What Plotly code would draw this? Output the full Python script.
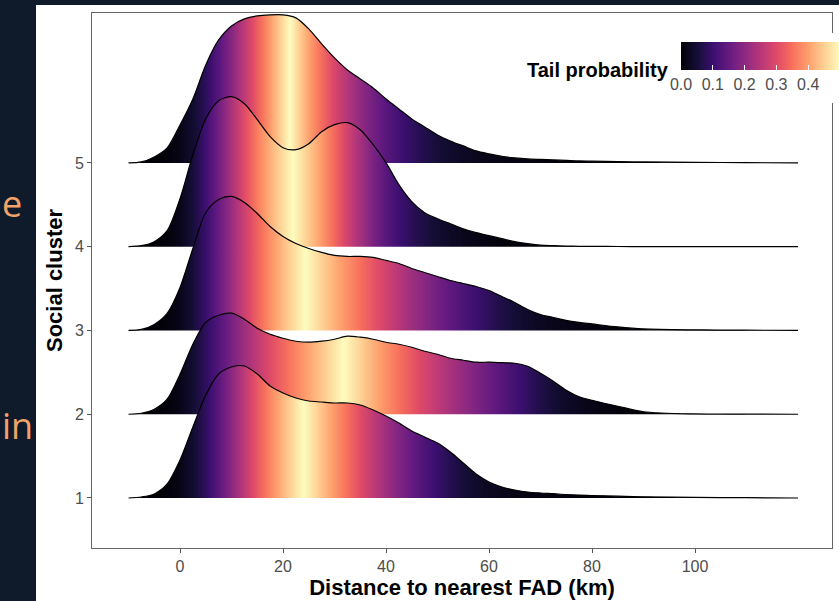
import numpy as np
import plotly.graph_objects as go

# ---------------- data ----------------
distance_km = [-10, -7.5, -5, -2.5, 0, 2.5, 5, 7.5, 10, 12.5, 15, 17.5, 20, 22.5, 25,
               27.5, 30, 32.5, 35, 37.5, 40, 42.5, 45, 47.5, 50, 52.5, 55, 57.5, 60,
               62.5, 65, 67.5, 70, 72.5, 75, 77.5, 80, 85, 90, 100, 110, 120]

clusters = [1, 2, 3, 4, 5]

# relative density heights (arbitrary units, shared scale across clusters)
density_c5 = [0, 1, 6, 15, 38, 64, 98, 123, 137, 144, 147, 148, 148, 145, 134,
              119, 105, 93, 84, 75, 64, 54, 44, 36, 28, 22, 17, 12, 9,
              6.5, 5, 4, 3.5, 3, 2.5, 2, 1.8, 1.3, 1, 0.6, 0.3, 0]
density_c4 = [0, 1, 5, 16, 48, 92, 128, 146, 150, 143, 127, 110, 99, 97, 103,
              115, 122, 124, 117, 102, 84, 62, 45, 34, 28, 23, 18, 14, 11,
              8, 5, 3, 1.5, 1, 0.6, 0.4, 0.3, 0.2, 0.1, 0, 0, 0]
density_c3 = [0, 1, 6, 17, 43, 82, 118, 131, 134, 128, 117, 104, 94, 87, 82,
              78, 75, 74, 74, 73, 70, 67, 62, 58, 54, 50, 47, 44, 40,
              34, 28, 21, 16, 13, 10, 8, 6.5, 3.5, 1.5, 0.6, 0.3, 0]
density_c2 = [0, 1, 5, 15, 40, 70, 92, 99, 101, 95, 86, 80, 76, 73, 72,
              73, 75, 78, 77, 75, 72, 70, 67, 63, 60, 56, 54, 52, 52,
              51.5, 51, 48, 41, 33, 24, 17.5, 14, 8, 2.5, 0.3, 0.1, 0]
density_c1 = [0, 1, 4, 14, 38, 71, 103, 124, 131, 132, 124, 112, 105, 100, 97,
              96, 95, 95, 93, 88, 82, 75, 67, 61, 55, 46, 35, 24, 16,
              11, 8, 6, 5, 4.3, 3.5, 3, 2.5, 1.8, 1.2, 0.6, 0.3, 0]

densities = {1: density_c1, 2: density_c2, 3: density_c3, 4: density_c4, 5: density_c5}

x_tickvals = [0, 20, 40, 60, 80, 100]
y_tickvals = [1, 2, 3, 4, 5]
cbar_tickvals = [0.0, 0.1, 0.2, 0.3, 0.4]
cbar_ticktext = ["0.0", "0.1", "0.2", "0.3", "0.4"]

# ---------------- styling ----------------
MAGMA = ["#000004", "#140E36", "#3B0F70", "#641A80", "#8C2981", "#B73779",
         "#DE4968", "#F7705C", "#FE9F6D", "#FECF92", "#FCFDBF"]
W, H = 839, 601
PL, PR, PT, PB = 92, 832, 13, 548          # plot-area pixel box
RIDGE_SCALE = 1 / 83.75                    # density units -> y units
X_RANGE = [-17.09, 126.6]
Y_RANGE = [0.403, 6.79]
FONT = "Liberation Sans, Arial, Helvetica, sans-serif"
SLIDE_BG = "#0f1a2a"


def fx(p):
    return (p - PL) / (PR - PL)


def fy(p):
    return (PB - p) / (PB - PT)


MAG_RGB = np.array([[int(c[i:i + 2], 16) for i in (1, 3, 5)] for c in MAGMA], float)


def magma(t):
    t = np.clip(np.asarray(t, float), 0, 1) * (len(MAGMA) - 1)
    i = np.minimum(np.floor(t).astype(int), len(MAGMA) - 2)
    f = (t - i)[:, None]
    c = MAG_RGB[i] * (1 - f) + MAG_RGB[i + 1] * f
    return ["rgb(%d,%d,%d)" % tuple(np.round(v)) for v in c]


magma_cs = [[i / (len(MAGMA) - 1), c] for i, c in enumerate(MAGMA)]

fig = go.Figure()

x = np.array(distance_km, float)
for k in sorted(clusters, reverse=True):
    d = np.array(densities[k], float)
    cdf = np.concatenate([[0], np.cumsum(np.diff(x) * (d[1:] + d[:-1]) / 2)])
    cdf = cdf / cdf[-1]
    xf = np.linspace(x[0], x[-1], 521)
    tail = 0.5 - np.abs(0.5 - np.interp(xf, x, cdf))
    cols = magma(tail / 0.5)
    pos = (xf - x[0]) / (x[-1] - x[0])
    cs = [[float(p), c] for p, c in zip(pos, cols)]
    cs[0][0] = 0.0
    cs[-1][0] = 1.0

    fig.add_trace(go.Scatter(x=x, y=[k] * len(x), mode="lines",
                             line=dict(width=0, color="rgba(0,0,0,0)"),
                             hoverinfo="skip", showlegend=False))
    fig.add_trace(go.Scatter(x=x, y=k + d * RIDGE_SCALE, mode="lines",
                             line=dict(color="black", width=1.2, shape="spline", smoothing=0.8),
                             fill="tonexty",
                             fillgradient=dict(type="horizontal", colorscale=cs,
                                               start=float(x[0]), stop=float(x[-1])),
                             hoverinfo="skip", showlegend=False, name="Cluster %d" % k))

# colour bar carrier
fig.add_trace(go.Scatter(
    x=[distance_km[0]], y=[clusters[0]], mode="markers",
    marker=dict(size=1, opacity=0, color=[0], cmin=0, cmax=0.5, colorscale=magma_cs,
                showscale=True,
                colorbar=dict(orientation="h", x=fx(681), xanchor="left",
                              y=fy(42), yanchor="top", len=159, lenmode="pixels",
                              thickness=28, thicknessmode="pixels", xpad=0, ypad=0,
                              outlinewidth=0, tickvals=cbar_tickvals, ticktext=cbar_ticktext,
                              ticks="inside", ticklen=5, tickcolor="white", tickwidth=1,
                              tickfont=dict(size=16, color="#4d4d4d", family=FONT))),
    hoverinfo="skip", showlegend=False))

fig.update_layout(
    width=W, height=H,
    margin=dict(l=PL, r=W - PR, t=PT, b=H - PB, autoexpand=False),
    paper_bgcolor=SLIDE_BG, plot_bgcolor="white",
    font=dict(family=FONT, color="#222"),
    showlegend=False,
    shapes=[
        dict(type="rect", xref="paper", yref="paper", x0=fx(36), x1=fx(W + 5),
             y0=fy(H + 5), y1=fy(5), fillcolor="white", line=dict(width=0), layer="below"),
        dict(type="rect", xref="paper", yref="paper", x0=fx(515), x1=fx(W + 5),
             y0=fy(103), y1=fy(33), fillcolor="white", line=dict(width=0), layer="above"),
    ],
    annotations=[
        dict(text="<b>Tail probability</b>", xref="paper", yref="paper", x=fx(671), y=fy(70),
             xanchor="right", yanchor="middle", showarrow=False,
             font=dict(size=20, color="black", family=FONT)),
        dict(text="e", xref="paper", yref="paper", x=fx(0), y=fy(203),
             xanchor="left", yanchor="middle", showarrow=False,
             font=dict(size=36, color="#f2a36b", family="Open Sans, Noto Sans")),
        dict(text="in", xref="paper", yref="paper", x=fx(0), y=fy(425),
             xanchor="left", yanchor="middle", showarrow=False,
             font=dict(size=36, color="#f2a36b", family="Open Sans, Noto Sans")),
    ],
)

fig.update_xaxes(range=X_RANGE, tickvals=x_tickvals, ticks="outside", ticklen=4,
                 tickcolor="#555", tickfont=dict(size=16, color="#4d4d4d"),
                 showgrid=False, zeroline=False, showline=True, linecolor="#666",
                 linewidth=1, mirror=True,
                 title=dict(text="<b>Distance to nearest FAD (km)</b>",
                            font=dict(size=22, color="black"), standoff=2))
fig.update_yaxes(range=Y_RANGE, tickvals=y_tickvals, ticks="outside", ticklen=4,
                 tickcolor="#555", tickfont=dict(size=16, color="#4d4d4d"),
                 showgrid=False, zeroline=False, showline=True, linecolor="#666",
                 linewidth=1, mirror=True,
                 title=dict(text="<b>Social cluster</b>",
                            font=dict(size=22, color="black"), standoff=6))

fig.write_html("out.html",
               config={"displayModeBar": False},
               post_script="document.body.style.margin='0';"
                           "document.body.style.background='%s';" % SLIDE_BG)
